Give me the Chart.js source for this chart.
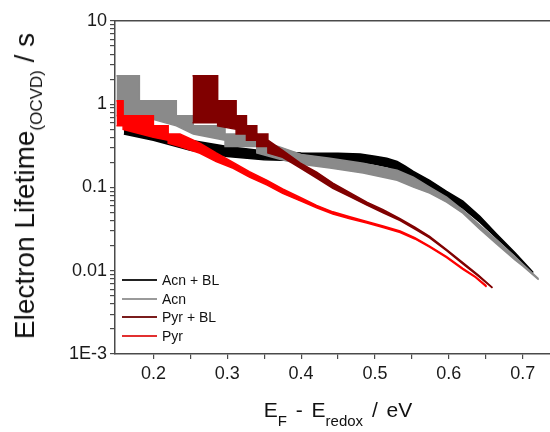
<!DOCTYPE html>
<html>
<head>
<meta charset="utf-8">
<script src="https://cdn.jsdelivr.net/npm/chart.js@4.4.1/dist/chart.umd.min.js"></script>
<style>
  body { margin: 0; background: #fff; }
  #wrap { position: relative; width: 550px; height: 432px; font-family: 'Liberation Sans', Arial, sans-serif; color: #111; }
  #ytitle { position: absolute; left: 27px; top: 186px; font-size: 28px; line-height: 28px; white-space: nowrap;
            transform: translate(-50%, -50%) rotate(-90deg); }
  #ytitle .sub { font-size: 17px; position: relative; top: 8px; }
  #xtitle { position: absolute; left: 338px; top: 399px; font-size: 21px; line-height: 21px; white-space: nowrap;
            transform: translateX(-50%); word-spacing: 3px; }
  #xtitle .sub { font-size: 15px; position: relative; top: 9px; word-spacing: 0; }
  .leg { position: absolute; left: 122px; height: 18px; font-size: 14px; line-height: 18px; white-space: nowrap; }
  .leg i { display: inline-block; width: 35px; height: 2px; vertical-align: middle; margin-right: 5px; position: relative; top: -1px; }
</style>
</head>
<body>
<div id="wrap">
  <canvas id="chart" width="550" height="432"></canvas>
  <div id="ytitle">Electron Lifetime<span class="sub">(OCVD)</span> / s</div>
  <div id="xtitle">E<span class="sub">F</span> - E<span class="sub">redox</span> / eV</div>
  <div id="legend"></div>
</div>
<script>
const seriesNames = ['Acn + BL', 'Acn', 'Pyr + BL', 'Pyr'];
const seriesColors = ['#000000', '#8a8a8a', '#800000', '#ff0000'];
const legendColors = ['#222222', '#9a9a9a', '#7a1c1c', '#e23030'];
const seriesOrder = [3, 2, 1, 0];

// Acn + BL (upper / lower edge of the noisy band)
const acnBlX  = [0.160, 0.200, 0.250, 0.300, 0.350, 0.400, 0.450, 0.480, 0.500, 0.516, 0.530, 0.541, 0.552, 0.574, 0.597, 0.619, 0.642, 0.665, 0.690, 0.714];
const acnBlHi = [0.55, 0.44, 0.37, 0.31, 0.275, 0.26, 0.258, 0.252, 0.238, 0.225, 0.205, 0.18, 0.156, 0.122, 0.090, 0.0685, 0.0452, 0.0275, 0.0163, 0.0096];
const acnBlLo = [0.44, 0.37, 0.28, 0.235, 0.215, 0.21, 0.207, 0.203, 0.19, 0.178, 0.16, 0.14, 0.121, 0.098, 0.0724, 0.0565, 0.0383, 0.0246, 0.0154, 0.0093];

// Acn
const acnX  = [0.150, 0.181, 0.181, 0.231, 0.231, 0.254, 0.254, 0.297, 0.297, 0.340, 0.340, 0.370, 0.400, 0.439, 0.484, 0.530, 0.552, 0.574, 0.597, 0.619, 0.642, 0.665, 0.690, 0.700, 0.7215];
const acnHi = [2.2, 2.2, 1.1, 1.1, 0.73, 0.73, 0.55, 0.55, 0.44, 0.44, 0.37, 0.31, 0.25, 0.225, 0.196, 0.161, 0.133, 0.101, 0.0765, 0.0534, 0.0352, 0.0233, 0.0146, 0.0120, 0.0080];
const acnLo = [0.73, 0.73, 0.73, 0.55, 0.55, 0.44, 0.44, 0.37, 0.31, 0.31, 0.26, 0.22, 0.19, 0.171, 0.149, 0.122, 0.101, 0.0855, 0.0666, 0.0491, 0.0316, 0.0209, 0.0134, 0.0114, 0.0078];

// Pyr + BL
const pyrBlX  = [0.253, 0.287, 0.287, 0.312, 0.312, 0.326, 0.326, 0.340, 0.340, 0.355, 0.355, 0.375, 0.399, 0.421, 0.443, 0.466, 0.489, 0.511, 0.534, 0.554, 0.574, 0.597, 0.619, 0.640, 0.659];
const pyrBlHi = [2.2, 2.2, 1.1, 1.1, 0.73, 0.73, 0.55, 0.55, 0.44, 0.44, 0.37, 0.28, 0.196, 0.153, 0.113, 0.0866, 0.0666, 0.0542, 0.0421, 0.0333, 0.0258, 0.0180, 0.0125, 0.0089, 0.0063];
const pyrBlLo = [0.6, 0.6, 0.55, 0.5, 0.44, 0.44, 0.37, 0.37, 0.31, 0.31, 0.26, 0.23, 0.171, 0.130, 0.098, 0.0776, 0.0614, 0.0498, 0.0401, 0.0317, 0.0248, 0.0174, 0.0121, 0.0086, 0.0062];

// Pyr
const pyrX  = [0.150, 0.159, 0.159, 0.200, 0.200, 0.220, 0.220, 0.236, 0.263, 0.285, 0.308, 0.330, 0.354, 0.375, 0.399, 0.421, 0.443, 0.466, 0.489, 0.511, 0.534, 0.554, 0.574, 0.597, 0.619, 0.636, 0.651];
const pyrHi = [1.1, 1.1, 0.73, 0.73, 0.55, 0.55, 0.44, 0.44, 0.34, 0.26, 0.20, 0.155, 0.122, 0.096, 0.076, 0.061, 0.051, 0.0445, 0.039, 0.0345, 0.030, 0.025, 0.0198, 0.0148, 0.0107, 0.0085, 0.0066];
const pyrLo = [0.55, 0.55, 0.50, 0.40, 0.40, 0.37, 0.34, 0.31, 0.258, 0.205, 0.17, 0.133, 0.107, 0.085, 0.069, 0.057, 0.048, 0.042, 0.0375, 0.033, 0.0288, 0.0241, 0.0192, 0.0144, 0.0104, 0.0083, 0.0064];

const xTicks = [0.2, 0.25, 0.3, 0.35, 0.4, 0.45, 0.5, 0.55, 0.6, 0.65, 0.7];
const xTickLabels = ['0.2', '', '0.3', '', '0.4', '', '0.5', '', '0.6', '', '0.7'];
const yDecades = [0.001, 0.01, 0.1, 1, 10];
const yTickLabels = ['1E-3', '0.01', '0.1', '1', '10'];

const series = [
    { x: acnBlX, hi: acnBlHi, lo: acnBlLo },
    { x: acnX, hi: acnHi, lo: acnLo },
    { x: pyrBlX, hi: pyrBlHi, lo: pyrBlLo },
    { x: pyrX, hi: pyrHi, lo: pyrLo }
];

let datasets = [];
series.forEach((s, i) => {
    const pts = arr => s.x.map((x, k) => ({ x: x, y: arr[k] }));
    datasets.push({
        label: seriesNames[i] + ' low',
        data: pts(s.lo),
        borderColor: seriesColors[i],
        borderWidth: 1.5,
        pointRadius: 0,
        fill: false,
        order: seriesOrder[i]
    });
    datasets.push({
        label: seriesNames[i],
        data: pts(s.hi),
        borderColor: seriesColors[i],
        backgroundColor: seriesColors[i],
        borderWidth: 1.5,
        pointRadius: 0,
        fill: datasets.length - 1,
        order: seriesOrder[i]
    });
});

// minor ticks for the log axis: 1..9 in each decade
let yTicks = [];
yDecades.forEach((d, k) => {
    if (k == yDecades.length - 1) { yTicks.push(d); return; }
    for (let m = 1; m < 10; m++) yTicks.push(+(d * m).toPrecision(3));
});

const axisColor = '#4a4a4a';
const tickFont = { family: "'Liberation Sans', Arial, sans-serif", size: 18 };

let chart = new Chart(document.getElementById('chart'), {
    type: 'line',
    data: { datasets: datasets },
    options: {
        responsive: false,
        animation: false,
        layout: { padding: 0 },
        plugins: { legend: { display: false }, tooltip: { enabled: false } },
        scales: {
            x: {
                type: 'linear',
                min: 0.148,
                max: 0.737,
                afterBuildTicks: scale => { scale.ticks = xTicks.map(v => ({ value: v })); },
                afterFit: scale => { scale.height = 78; },
                ticks: {
                    font: tickFont,
                    color: '#1a1a1a',
                    padding: 4,
                    maxRotation: 0,
                    autoSkip: false,
                    callback: v => {
                        let i = xTicks.findIndex(t => Math.abs(t - v) < 1e-9);
                        return i < 0 ? '' : xTickLabels[i];
                    }
                },
                grid: { drawOnChartArea: false, tickLength: 5, color: axisColor, lineWidth: 1.2 },
                border: { color: axisColor, width: 1.5 }
            },
            x2: {
                type: 'linear',
                position: 'top',
                min: 0.148,
                max: 0.737,
                afterFit: scale => { scale.height = 21; },
                ticks: { display: false },
                grid: { display: false },
                border: { color: axisColor, width: 1.5 }
            },
            y: {
                type: 'logarithmic',
                min: 0.001,
                max: 10,
                afterBuildTicks: scale => { scale.ticks = yTicks.map(v => ({ value: v })); },
                afterFit: scale => { scale.width = 115; },
                ticks: {
                    font: tickFont,
                    color: '#1a1a1a',
                    padding: 3,
                    autoSkip: false,
                    callback: v => {
                        let i = yDecades.findIndex(t => Math.abs(t - v) < t * 1e-6);
                        return i < 0 ? '' : yTickLabels[i];
                    }
                },
                grid: { drawOnChartArea: false, tickLength: 5, color: axisColor, lineWidth: 1.2 },
                border: { color: axisColor, width: 1.5 }
            }
        }
    }
});

// legend in the lower left of the plot
const legendTops = [271, 290, 308, 327];
let legendDiv = document.getElementById('legend');
seriesNames.forEach((name, i) => {
    let row = document.createElement('div');
    row.className = 'leg';
    row.style.top = legendTops[i] + 'px';
    let line = document.createElement('i');
    line.style.background = legendColors[i];
    row.append(line);
    row.append(document.createTextNode(name));
    legendDiv.append(row);
});
</script>
</body>
</html>
